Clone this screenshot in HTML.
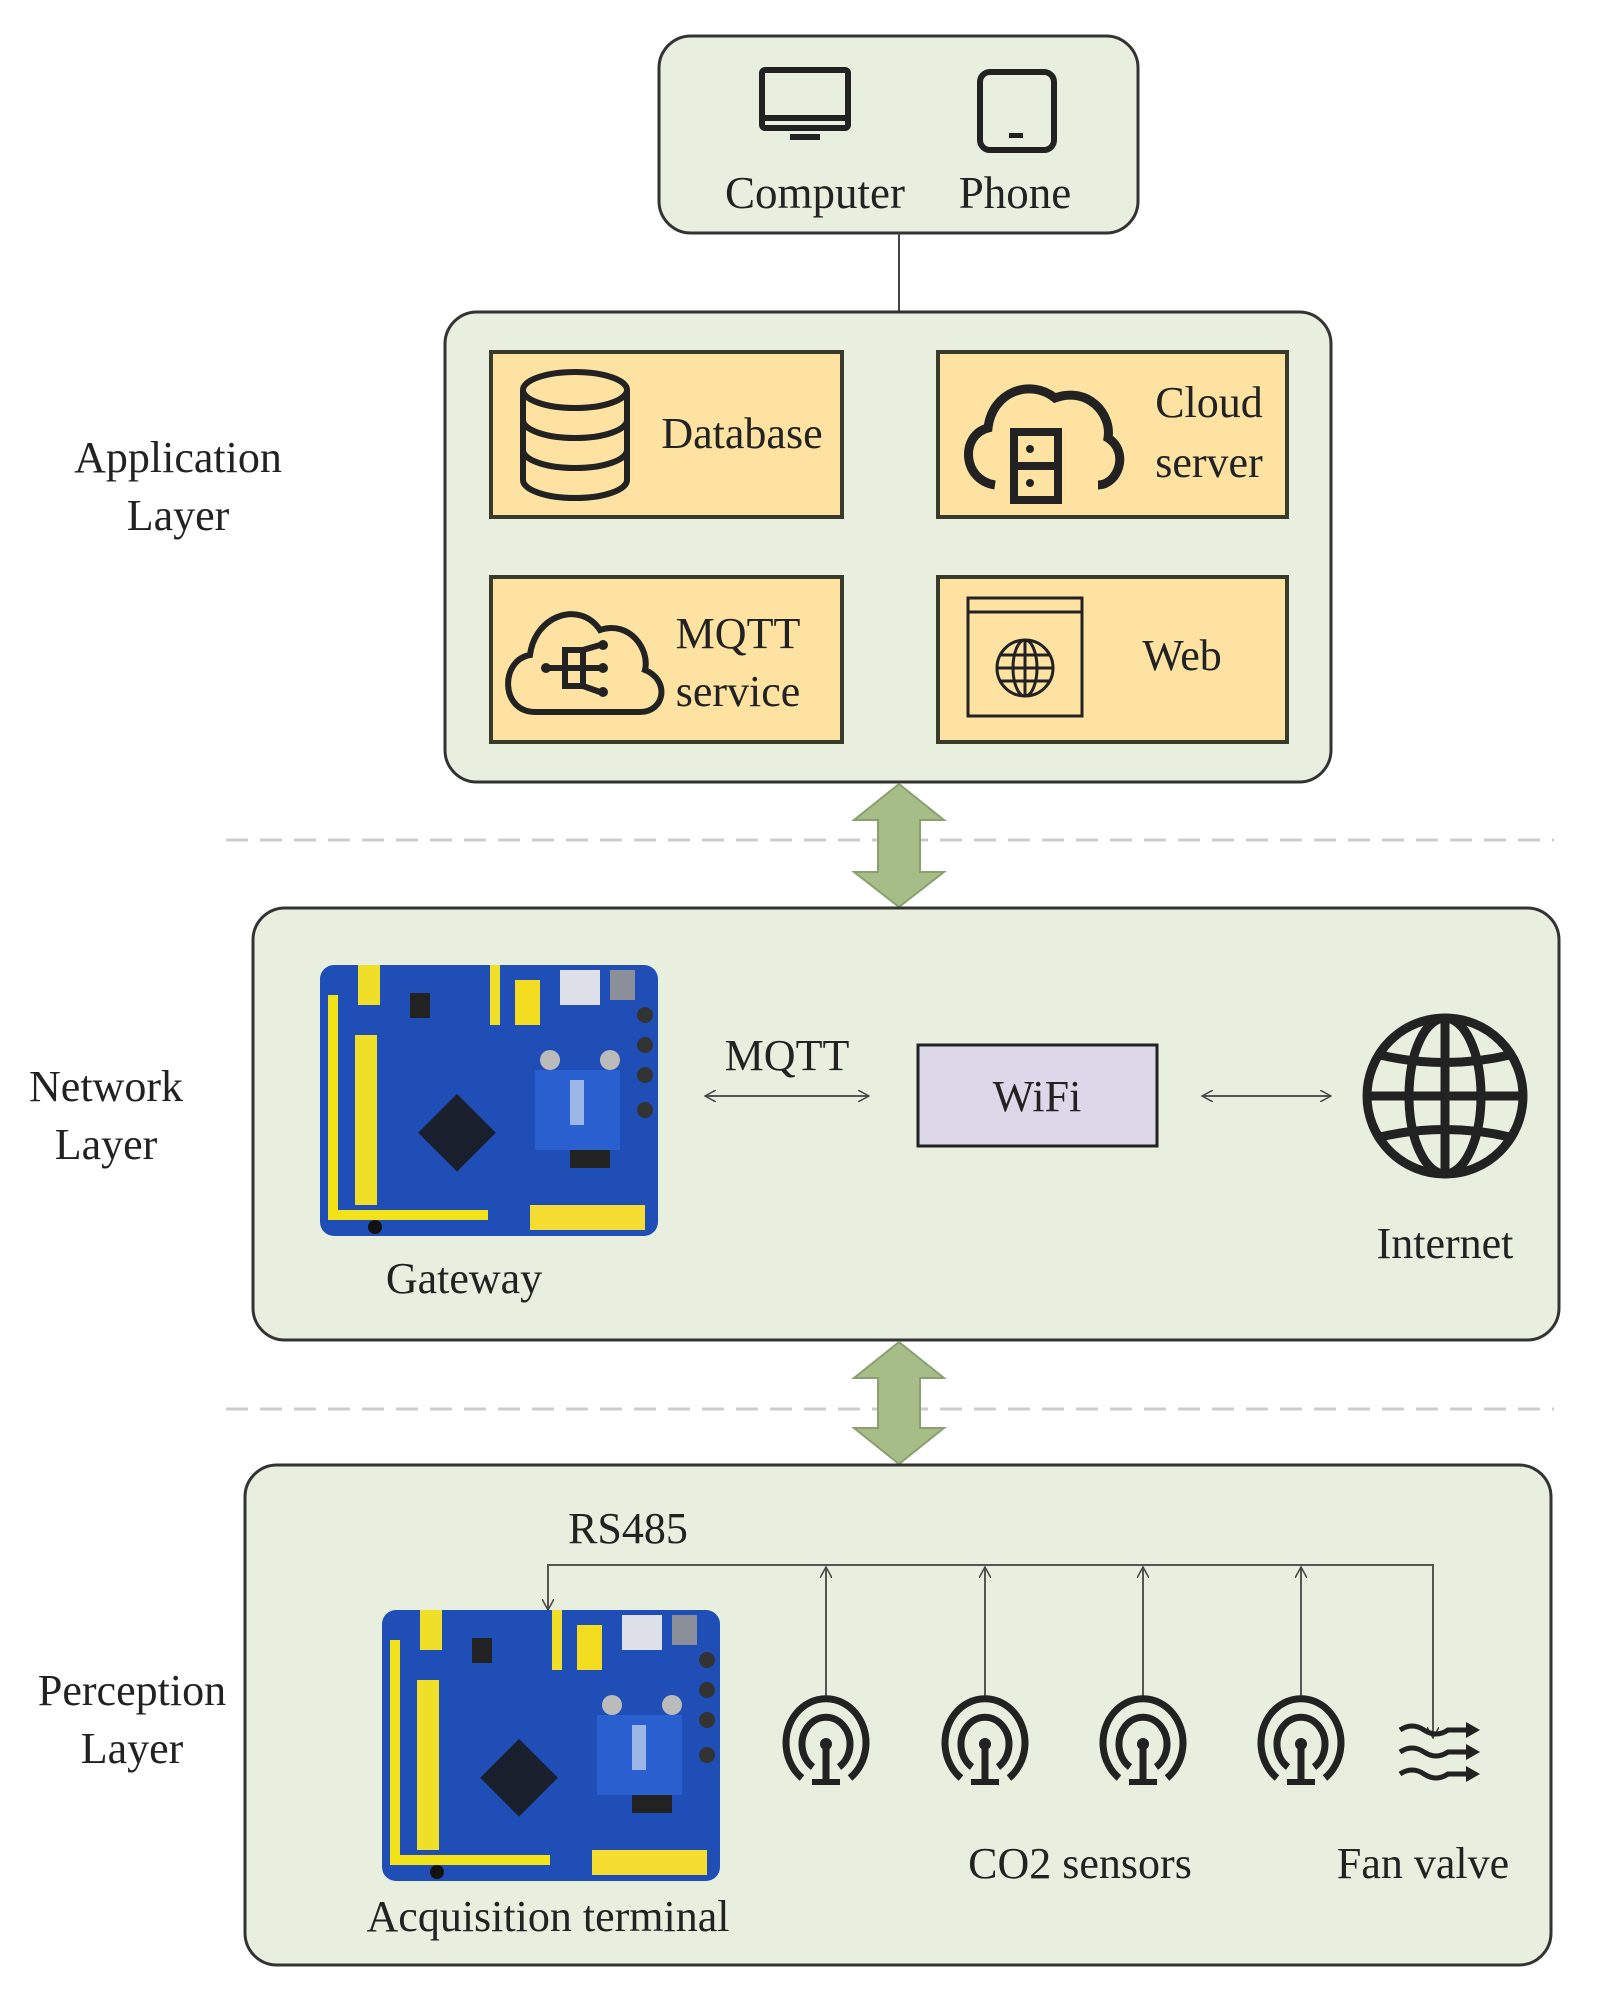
<!DOCTYPE html>
<html><head><meta charset="utf-8"><style>
html,body{margin:0;padding:0;background:#fff;}
svg{display:block;}
text{font-family:"Liberation Serif",serif;fill:#222;}
</style></head><body>
<svg width="1602" height="2012" viewBox="0 0 1602 2012" xmlns="http://www.w3.org/2000/svg">
<defs>
<g id="board">
  <rect x="0" y="0" width="338" height="271" rx="14" fill="#1f4fb6"/>
  <rect x="8" y="30" width="10" height="225" fill="#f2e21a"/>
  <rect x="35" y="70" width="22" height="170" fill="#f0df28"/>
  <rect x="38" y="0" width="22" height="40" fill="#f0df28"/>
  <rect x="170" y="0" width="10" height="60" fill="#f0df28"/>
  <rect x="195" y="15" width="25" height="45" fill="#f4dc20"/>
  <rect x="18" y="245" width="150" height="10" fill="#f2e21a"/>
  <rect x="210" y="240" width="115" height="25" fill="#f4dc30"/>
  <rect x="240" y="5" width="40" height="35" fill="#dde0e8"/>
  <rect x="290" y="5" width="25" height="30" fill="#8a8f9a"/>
  <rect x="110" y="140" width="55" height="55" fill="#1a1f2e" transform="rotate(45 137 167)"/>
  <rect x="215" y="105" width="85" height="80" fill="#2a5fd0"/>
  <rect x="250" y="115" width="14" height="45" fill="#9db6e8"/>
  <rect x="250" y="185" width="40" height="18" fill="#222"/>
  <circle cx="230" cy="95" r="10" fill="#bbb"/>
  <circle cx="290" cy="95" r="10" fill="#bbb"/>
  <circle cx="325" cy="50" r="8" fill="#333"/>
  <circle cx="325" cy="80" r="8" fill="#333"/>
  <circle cx="325" cy="110" r="8" fill="#333"/>
  <circle cx="325" cy="145" r="8" fill="#333"/>
  <rect x="90" y="28" width="20" height="25" fill="#222"/>
  <circle cx="55" cy="262" r="7" fill="#111"/>
</g>
<g id="sensor" fill="none" stroke="#222" stroke-width="7" stroke-linecap="butt">
  <path d="M-24,38 A40,44 0 1 1 24,38"/>
  <path d="M-13,27 A24,27 0 1 1 13,27"/>
  <circle cx="0" cy="4" r="6" fill="#222" stroke="none"/>
  <line x1="0" y1="4" x2="0" y2="40"/>
  <line x1="-14" y1="42" x2="14" y2="42" stroke-width="6"/>
</g>
<marker id="ah" viewBox="0 0 12 12" refX="11" refY="6" markerWidth="12" markerHeight="12" orient="auto-start-reverse" markerUnits="userSpaceOnUse">
  <path d="M0,0 L11,6 L0,12" fill="none" stroke="#444" stroke-width="1.5"/>
</marker>
</defs>

<!-- Top device box -->
<rect x="659" y="36" width="479" height="197" rx="32" fill="#e9efdf" stroke="#333" stroke-width="3"/>
<g fill="none" stroke="#222" stroke-width="6">
  <rect x="762" y="70" width="86" height="58" rx="3"/>
  <line x1="762" y1="118" x2="848" y2="118"/>
</g>
<rect x="790" y="134" width="30" height="6" fill="#222"/>
<rect x="980" y="72" width="74" height="78" rx="10" fill="none" stroke="#222" stroke-width="6"/>
<rect x="1009" y="133" width="14" height="5" fill="#222"/>
<text x="815" y="208" font-size="45" text-anchor="middle">Computer</text>
<text x="1015" y="208" font-size="45" text-anchor="middle">Phone</text>
<line x1="899" y1="233" x2="899" y2="312" stroke="#444" stroke-width="2"/>

<!-- Application layer -->
<text x="178" y="472" font-size="44" text-anchor="middle">Application</text>
<text x="178" y="530" font-size="44" text-anchor="middle">Layer</text>
<rect x="445" y="312" width="886" height="470" rx="32" fill="#e9efdf" stroke="#333" stroke-width="3"/>
<g fill="#fde2a2" stroke="#3a3a2a" stroke-width="4">
  <rect x="491" y="352" width="351" height="165"/>
  <rect x="938" y="352" width="349" height="165"/>
  <rect x="491" y="577" width="351" height="165"/>
  <rect x="938" y="577" width="349" height="165"/>
</g>
<g fill="none" stroke="#222" stroke-width="6">
  <ellipse cx="575" cy="390" rx="52" ry="18"/>
  <path d="M523,390 V480 A52,18 0 0 0 627,480 V390"/>
  <path d="M523,420 A52,18 0 0 0 627,420"/>
  <path d="M523,450 A52,18 0 0 0 627,450"/>
</g>
<text x="742" y="448" font-size="44" text-anchor="middle">Database</text>
<g fill="none" stroke="#222" stroke-width="9">
  <path d="M995,485 C962,480 960,435 988,428 C992,392 1030,378 1055,398 C1088,386 1112,414 1108,438 C1130,452 1118,485 1098,485"/>
</g>
<rect x="1010" y="428" width="52" height="76" fill="#222"/>
<rect x="1018" y="436" width="36" height="26" fill="#fde2a2"/>
<rect x="1018" y="470" width="36" height="26" fill="#fde2a2"/>
<circle cx="1030" cy="449" r="4" fill="#222"/><circle cx="1030" cy="483" r="4" fill="#222"/>
<text x="1209" y="417" font-size="44" text-anchor="middle">Cloud</text>
<text x="1209" y="477" font-size="44" text-anchor="middle">server</text>
<g fill="none" stroke="#222" stroke-width="6">
  <path d="M535,712 C500,712 500,660 530,655 C535,615 580,600 600,630 C630,620 650,650 645,670 C670,680 665,712 640,712 Z"/>
  <line x1="548" y1="668" x2="600" y2="668"/>
  <rect x="565" y="650" width="18" height="36"/>
  <line x1="583" y1="650" x2="600" y2="645"/><line x1="583" y1="686" x2="600" y2="692"/>
</g>
<circle cx="546" cy="668" r="5" fill="#222"/><circle cx="603" cy="645" r="5" fill="#222"/><circle cx="603" cy="668" r="5" fill="#222"/><circle cx="603" cy="692" r="5" fill="#222"/>
<text x="738" y="648" font-size="44" text-anchor="middle">MQTT</text>
<text x="738" y="706" font-size="44" text-anchor="middle">service</text>
<g fill="none" stroke="#222" stroke-width="3">
  <rect x="968" y="598" width="114" height="118"/>
  <line x1="968" y1="612" x2="1082" y2="612"/>
  <circle cx="1025" cy="668" r="28"/>
  <ellipse cx="1025" cy="668" rx="12" ry="28"/>
  <line x1="1025" y1="640" x2="1025" y2="696"/>
  <line x1="997" y1="668" x2="1053" y2="668"/>
  <line x1="1000" y1="655" x2="1050" y2="655"/><line x1="1000" y1="681" x2="1050" y2="681"/>
</g>
<text x="1182" y="670" font-size="44" text-anchor="middle">Web</text>

<line x1="226" y1="840" x2="1554" y2="840" stroke="#ccc" stroke-width="3" stroke-dasharray="22,12"/>
<path d="M899,784 L944,820 L920,820 L920,872 L944,872 L899,907 L854,872 L878,872 L878,820 L854,820 Z" fill="#a7bd88" stroke="#8aa070" stroke-width="2"/>

<!-- Network layer -->
<text x="106" y="1101" font-size="44" text-anchor="middle">Network</text>
<text x="106" y="1159" font-size="44" text-anchor="middle">Layer</text>
<rect x="253" y="908" width="1306" height="432" rx="32" fill="#e9efdf" stroke="#333" stroke-width="3"/>
<use href="#board" x="320" y="965"/>
<text x="464" y="1293" font-size="44" text-anchor="middle">Gateway</text>
<text x="787" y="1070" font-size="44" text-anchor="middle">MQTT</text>
<line x1="705" y1="1096" x2="869" y2="1096" stroke="#555" stroke-width="2" marker-end="url(#ah)" marker-start="url(#ah)"/>
<rect x="918" y="1045" width="239" height="101" fill="#dcd8ea" stroke="#222" stroke-width="3"/>
<text x="1037" y="1111" font-size="44" text-anchor="middle">WiFi</text>
<line x1="1202" y1="1096" x2="1331" y2="1096" stroke="#555" stroke-width="2" marker-end="url(#ah)" marker-start="url(#ah)"/>
<g fill="none" stroke="#222" stroke-width="9">
  <circle cx="1445" cy="1096" r="78"/>
  <ellipse cx="1445" cy="1096" rx="36" ry="78"/>
  <line x1="1445" y1="1018" x2="1445" y2="1174"/>
  <line x1="1367" y1="1096" x2="1523" y2="1096"/>
  <path d="M1380,1055 Q1445,1070 1510,1055"/>
  <path d="M1380,1137 Q1445,1122 1510,1137"/>
</g>
<text x="1445" y="1258" font-size="44" text-anchor="middle">Internet</text>

<line x1="226" y1="1409" x2="1554" y2="1409" stroke="#ccc" stroke-width="3" stroke-dasharray="22,12"/>
<path d="M899,1342 L944,1378 L920,1378 L920,1428 L944,1428 L899,1464 L854,1428 L878,1428 L878,1378 L854,1378 Z" fill="#a7bd88" stroke="#8aa070" stroke-width="2"/>

<!-- Perception layer -->
<text x="132" y="1705" font-size="44" text-anchor="middle">Perception</text>
<text x="132" y="1763" font-size="44" text-anchor="middle">Layer</text>
<rect x="245" y="1465" width="1306" height="500" rx="32" fill="#e9efdf" stroke="#333" stroke-width="3"/>
<text x="628" y="1543" font-size="44" text-anchor="middle">RS485</text>
<g stroke="#555" stroke-width="2" fill="none">
  <polyline points="548,1610 548,1565 1433,1565 1433,1735" />
  <line x1="548" y1="1570" x2="548" y2="1610" marker-end="url(#ah)"/>
  <line x1="1433" y1="1700" x2="1433" y2="1738" marker-end="url(#ah)"/>
  <line x1="826" y1="1698" x2="826" y2="1567" marker-end="url(#ah)"/>
  <line x1="985" y1="1698" x2="985" y2="1567" marker-end="url(#ah)"/>
  <line x1="1143" y1="1698" x2="1143" y2="1567" marker-end="url(#ah)"/>
  <line x1="1301" y1="1698" x2="1301" y2="1567" marker-end="url(#ah)"/>
</g>
<use href="#board" x="382" y="1610"/>
<use href="#sensor" x="826" y="1740"/>
<use href="#sensor" x="985" y="1740"/>
<use href="#sensor" x="1143" y="1740"/>
<use href="#sensor" x="1301" y="1740"/>
<g fill="none" stroke="#222" stroke-width="5">
  <path d="M1400,1730 q12,-8 24,0 t24,0 l20,0"/>
  <path d="M1400,1752 q12,-8 24,0 t24,0 l20,0"/>
  <path d="M1400,1774 q12,-8 24,0 t24,0 l20,0"/>
</g>
<g fill="#222">
  <path d="M1480,1730 l-14,-8 v16z"/><path d="M1480,1752 l-14,-8 v16z"/><path d="M1480,1774 l-14,-8 v16z"/>
</g>
<text x="548" y="1931" font-size="44" text-anchor="middle">Acquisition terminal</text>
<text x="1080" y="1878" font-size="44" text-anchor="middle">CO2 sensors</text>
<text x="1423" y="1878" font-size="44" text-anchor="middle">Fan valve</text>
</svg>
</body></html>
